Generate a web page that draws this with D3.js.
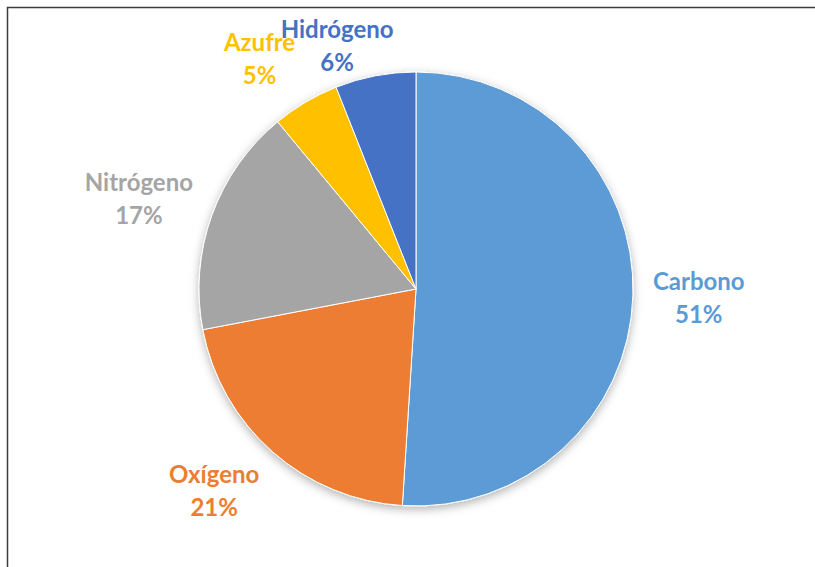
<!DOCTYPE html>
<meta charset="utf-8">
<style>
    body { margin: 0; background: #fff; }
    svg { display: block; }
    .label text {
        font-family: Lato, "Noto Sans", sans-serif;
        font-weight: bold;
        font-size: 24px;
    }
</style>
<svg width="815" height="567"></svg>
<script src="https://cdn.jsdelivr.net/npm/d3@7/dist/d3.min.js"></script>
<script>

    // element composition, clockwise from 12 o'clock
    var elements = ["Carbono", "Oxígeno", "Nitrógeno", "Azufre", "Hidrógeno"];
    var percents = [51, 21, 17, 5, 6];
    var colors = ["#5B9BD5", "#ED7D31", "#A5A5A5", "#FFC000", "#4472C4"];

    const CX = 416, CY = 289, RADIUS = 217;
    const LABEL_GAP = 20;
    const LINE_H = 33;
    const FRAME_TOP = 8;

    var svg = d3.select("svg");

    // chart frame (runs off the right and bottom of the window)
    svg.append("rect")
        .attr("x", 7.5).attr("y", 7.5)
        .attr("width", 900).attr("height", 700)
        .attr("fill", "none")
        .attr("stroke", "#3a3a3a")
        .attr("stroke-width", 1.5);

    var defs = svg.append("defs");
    var shadow = defs.append("filter").attr("id", "shadow")
        .attr("x", "-20%").attr("y", "-20%").attr("width", "140%").attr("height", "140%");
    shadow.append("feDropShadow")
        .attr("dx", 0).attr("dy", 3)
        .attr("stdDeviation", 5)
        .attr("flood-color", "#000")
        .attr("flood-opacity", 0.3);

    var color = d3.scaleOrdinal().domain(elements).range(colors);

    var data = elements.map(function (name, i) {
        return {name: name, value: percents[i]};
    });

    var pie = d3.pie()
        .sort(null)
        .value(function (d) { return d.value; });

    var arc = d3.arc().innerRadius(0).outerRadius(RADIUS);

    var arcs = pie(data);

    var g = svg.append("g").attr("transform", "translate(" + CX + "," + CY + ")");

    g.append("g")
        .attr("filter", "url(#shadow)")
        .selectAll("path")
        .data(arcs)
        .enter().append("path")
        .attr("d", arc)
        .attr("fill", function (d) { return color(d.data.name); })
        .attr("stroke", "#fff")
        .attr("stroke-width", 1)
        .attr("stroke-linejoin", "round");

    // labels: outside end, pushed clear of the pie and kept inside the frame
    var labels = svg.append("g").attr("class", "label")
        .selectAll("g")
        .data(arcs)
        .enter().append("g");

    labels.append("text")
        .attr("text-anchor", "middle")
        .attr("fill", function (d) { return color(d.data.name); })
        .selectAll("tspan")
        .data(function (d) { return [d.data.name, d.data.value + "%"]; })
        .enter().append("tspan")
        .attr("x", 0)
        .attr("y", function (t, i) { return i * LINE_H; })
        .text(function (t) { return t; });

    var boxes = [];
    labels.each(function (d) {
        var bb = this.getBBox();
        var a = (d.startAngle + d.endAngle) / 2;
        var s = Math.sin(a), c = Math.cos(a);
        var px = CX + s * (RADIUS + LABEL_GAP);
        var py = CY - c * (RADIUS + LABEL_GAP);
        var cx = px + Math.sign(s) * bb.width / 2;
        var cy = py - c * bb.height / 2;
        // keep inside frame
        var top = cy - bb.height / 2;
        if (top < FRAME_TOP + 6) cy += FRAME_TOP + 6 - top;
        // avoid overlap with earlier labels by sliding sideways
        boxes.forEach(function (b) {
            var ox = Math.min(cx + bb.width / 2, b.x2) - Math.max(cx - bb.width / 2, b.x1);
            var oy = Math.min(cy + bb.height / 2, b.y2) - Math.max(cy - bb.height / 2, b.y1);
            if (ox > 0 && oy > 0) cx += (cx > (b.x1 + b.x2) / 2 ? 1 : -1) * ox * 0.6;
        });
        boxes.push({x1: cx - bb.width / 2, x2: cx + bb.width / 2, y1: cy - bb.height / 2, y2: cy + bb.height / 2});
        d3.select(this).attr("transform",
            "translate(" + (cx - (bb.x + bb.width / 2)) + "," + (cy - (bb.y + bb.height / 2)) + ")");
    });

</script>
